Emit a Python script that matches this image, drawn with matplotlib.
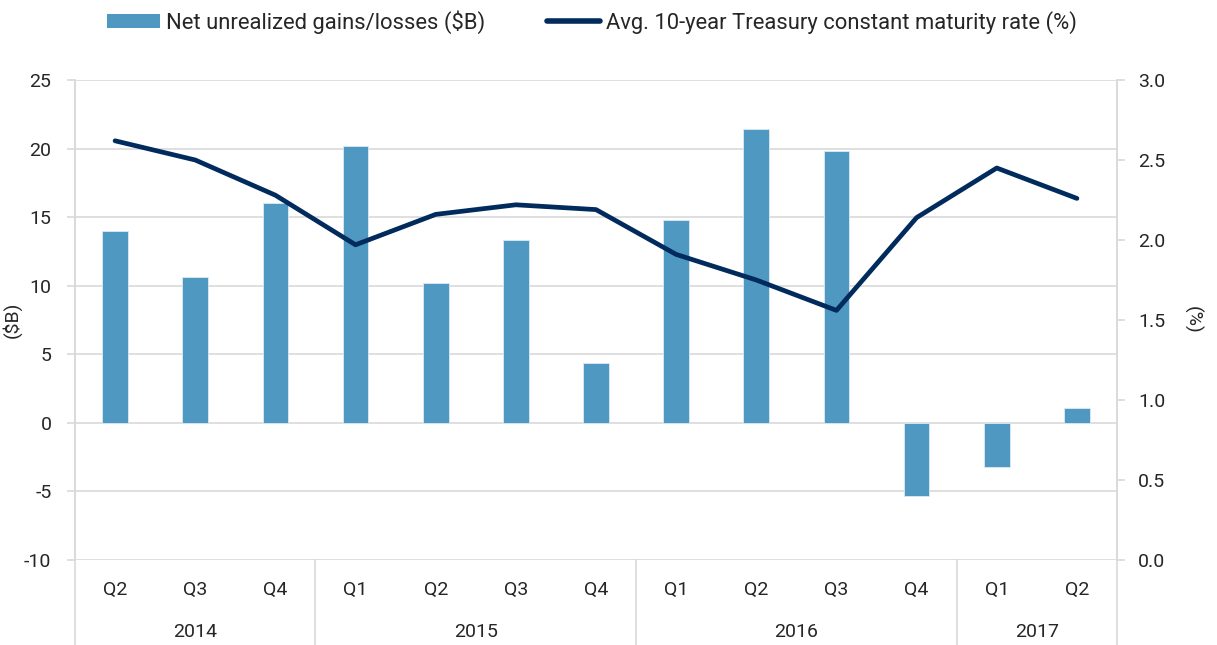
import matplotlib.pyplot as plt
import numpy as np
from matplotlib.lines import Line2D
from matplotlib.patches import Patch

plt.rcParams['font.family'] = ['Roboto', 'DejaVu Sans']
plt.rcParams['axes.unicode_minus'] = False

quarters = ['Q2', 'Q3', 'Q4', 'Q1', 'Q2', 'Q3', 'Q4', 'Q1', 'Q2', 'Q3', 'Q4', 'Q1', 'Q2']
years = ['2014', '2015', '2016', '2017']
year_counts = [3, 4, 4, 2]
gains = [14.0, 10.6, 16.0, 20.2, 10.2, 13.3, 4.4, 14.8, 21.4, 19.8, -5.3, -3.2, 1.1]
rate = [2.62, 2.50, 2.28, 1.97, 2.16, 2.22, 2.19, 1.91, 1.75, 1.56, 2.14, 2.45, 2.26]

bar_color = '#4F98C1'
line_color = '#002B5C'
grid_color = '#D9D9D9'
text_color = '#262626'

fig = plt.figure(figsize=(12.17, 6.45), dpi=100)
ax = fig.add_axes([75 / 1217, 1 - 560 / 645, 1042 / 1217, 480 / 645])
ax2 = ax.twinx()

x = np.arange(len(gains))
ax.bar(x, gains, width=0.32, color=bar_color, edgecolor='#DCEBF4', linewidth=0.6, zorder=2)
ax.set_xlim(-0.5, len(gains) - 0.5)
ax.set_ylim(-10, 25)
ax.set_yticks(np.arange(-10, 26, 5))
ax.grid(axis='y', color=grid_color, linewidth=1.2, zorder=0)
ax.set_axisbelow(True)

ax2.plot(x, rate, color=line_color, linewidth=3.4, solid_capstyle='round', solid_joinstyle='round')
ax2.set_ylim(0, 3.0)
ax2.set_yticks(np.arange(0, 3.01, 0.5))
ax2.set_yticklabels([f'{v:.1f}' for v in np.arange(0, 3.01, 0.5)])

for a in (ax, ax2):
    a.spines['top'].set_visible(False)
    a.spines['bottom'].set_visible(False)
    for s in ('left', 'right'):
        a.spines[s].set_color(grid_color)
        a.spines[s].set_linewidth(1.2)
    a.tick_params(axis='y', colors=grid_color, labelcolor=text_color, labelsize=14, length=6, width=1.2)
ax.tick_params(axis='y', pad=11)
ax2.tick_params(axis='y', pad=9)

ax.set_xticks([])
ax.set_ylabel('($B)', fontsize=14, color=text_color)
ax.yaxis.set_label_coords(-0.051, 0.5)
ax2.set_ylabel('(%)', fontsize=14, color=text_color, rotation=270, va='center')
ax2.yaxis.set_label_coords(1.072, 0.5)

# category axis: quarters and years below the plot
trans = ax.get_xaxis_transform()
for i, q in enumerate(quarters):
    ax.text(i, -0.0625, q, transform=trans, ha='center', va='center', fontsize=14, color=text_color)
start = 0
bounds = [-0.5]
for y, n in zip(years, year_counts):
    mid = start + (n - 1) / 2
    ax.text(mid, -0.15, y, transform=trans, ha='center', va='center', fontsize=14, color=text_color)
    start += n
    bounds.append(start - 0.5)
for b in bounds:
    ax.add_line(Line2D([b, b], [0, -0.2], transform=trans, color=grid_color, linewidth=1.2, clip_on=False))

handles = [Patch(facecolor=bar_color, edgecolor='none'),
           Line2D([0], [0], color=line_color, linewidth=4, solid_capstyle='round')]
labels = ['Net unrealized gains/losses ($B)', 'Avg. 10-year Treasury constant maturity rate (%)']
fig.legend(handles, labels, loc='center', bbox_to_anchor=(592 / 1217, 1 - 22 / 645), ncol=2,
           frameon=False, fontsize=15.8, handlelength=2.4, handleheight=0.6, columnspacing=2.8,
           handletextpad=0.3, labelcolor=text_color, borderpad=0)

fig.savefig('out.png', dpi=100, facecolor='white')
